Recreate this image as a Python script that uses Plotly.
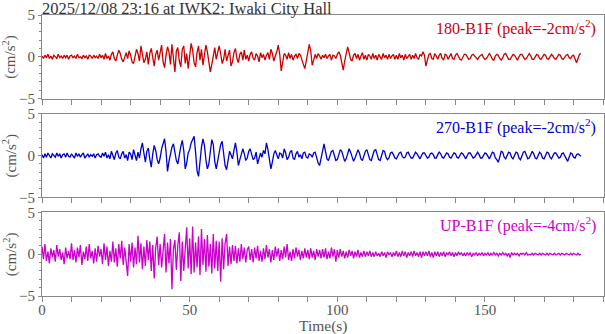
import plotly.graph_objects as go
from plotly.subplots import make_subplots

TITLE = "2025/12/08 23:16 at IWK2: Iwaki City Hall"
DT = 0.5  # sample interval (s)
LABELS = ["180-B1F (peak=-2cm/s<sup>2</sup>)",
          "270-B1F (peak=-2cm/s<sup>2</sup>)",
          "UP-B1F (peak=-4cm/s<sup>2</sup>)"]
COLORS = ["#cc0000", "#0000cc", "#cc00cc"]
X_TICKS = [0, 50, 100, 150]
Y_TICKS = [-5, 0, 5]
Y_TITLE = "(cm/s<sup>2</sup>)"
X_TITLE = "Time(s)"

ACC_180 = [
    0.1, -0.2, 0.2, -0.1, 0.3, -0.2, 0.1, -0.3, 0.2, 0.0, -0.2, 0.3, -0.1, 0.1, -0.2, 0.2, -0.1, 0.2, -0.3, 0.1,
    0.2, -0.1, 0.1, -0.2, 0.3, -0.1, 0.0, -0.2, 0.2, -0.1, 0.1, -0.3, 0.2, 0.1, -0.2, 0.2, -0.1, 0.1, -0.2, 0.3,
    -0.1, 0.2, -0.3, 0.4, -0.2, 0.1, -0.4, 0.3, 0.6, -0.2, -0.5, 0.2, 0.8, 0.4, -0.3, -0.6, 0.1, 0.5, -0.2, 0.7,
    0.2, -0.6, -0.8, 0.3, 0.9, 0.4, -0.5, 1.3, 0.2, -0.7, -0.3, 0.6, -0.9, 0.4, 1.0, -0.2, -1.1, 0.3, 0.8, -0.4,
    0.5, 1.4, -0.6, -1.3, 0.2, 1.2, 0.6, -0.9, 1.5, -0.3, -1.8, 0.7, 1.1, -0.5, -1.2, 0.9, 1.3, -0.8, 0.4, -1.4,
    0.3, 1.6, 0.8, -0.7, -1.2, 0.5, 1.3, -0.4, 0.9, -1.0, 0.2, 1.4, 0.6, -0.6, -1.8, -0.9, 0.4, 1.1, -0.3, 0.7,
    1.3, 0.4, -0.8, -0.3, 0.9, -0.5, 0.2, 0.8, -1.1, -0.6, 0.5, 1.0, -0.2, -0.7, 0.3, 0.6, -0.4, 0.8, -0.3, 0.2,
    -0.5, 0.3, 0.6, -0.2, -0.4, 0.4, 0.1, -0.6, 0.5, -0.1, 0.3, -0.4, 0.2, 0.5, -0.3, 0.9, 0.4, -0.5, 0.1, 0.6,
    1.4, 0.3, -1.7, -0.6, 0.4, 0.2, -0.3, 0.5, -0.2, 0.3, -0.4, 0.1, 0.3, -0.2, 0.4, 0.2, -0.5, -0.9, -1.4, -0.3,
    0.6, 1.5, 0.7, -1.0, -0.4, 0.3, -0.2, 0.4, 0.1, -0.3, 0.2, -0.1, 0.3, -0.2, 0.1, 0.3, -0.4, 0.2, 0.1, -0.2,
    0.3, 0.6, 0.2, -0.8, -1.6, -0.5, 0.6, 1.2, 0.5, -0.3, -0.5, 0.2, 0.4, -0.2, 0.3, -0.4, 0.1, 0.5, -0.3, 0.2,
    -0.4, 0.3, 0.1, -0.3, 0.4, -0.2, 0.2, -0.4, 0.3, 0.0, -0.3, 0.4, -0.1, 0.2, -0.3, 0.3, -0.2, 0.1, 0.3, -0.3,
    0.2, -0.3, 0.4, -0.1, 0.2, -0.4, 0.3, -0.2, 0.1, 0.3, -0.3, 0.2, -0.2, 0.4, -0.1, -0.3, 0.3, 0.1, 0.6, 0.2,
    -1.1, -0.4, 0.3, 0.4, -0.2, -0.3, 0.4, 0.1, -0.3, 0.2, 0.4, -0.2, -0.4, 0.3, 0.2, -0.3, 0.1, 0.4, -0.2, -0.3,
    0.2, 0.4, 0.1, -0.3, -0.4, 0.0, 0.3, 0.3, -0.1, -0.3, -0.2, 0.2, 0.3, 0.1, -0.2, -0.3, 0.0, 0.2, 0.3, -0.1,
    -0.3, -0.2, 0.2, 0.4, 0.1, -0.3, -0.4, 0.1, 0.3, 0.2, -0.2, -0.4, -0.1, 0.3, 0.4, 0.0, -0.3, -0.3, 0.1, 0.3,
    0.2, -0.2, -0.4, 0.0, 0.3, 0.3, -0.1, -0.3, -0.2, 0.2, 0.4, 0.1, -0.3, -0.3, 0.1, 0.3, 0.2, -0.2, -0.3, 0.0,
    0.3, 0.2, -0.2, -0.3, 0.1, 0.3, 0.1, -0.2, -0.3, 0.1, 0.3, 0.2, -0.2, -0.3, 0.0, 0.2, 0.3, -0.1, -0.2, 0.1,
    0.2, -0.3, -0.7, -0.2, 0.3, 0.4,
]

ACC_270 = [
    0.1, -0.3, 0.2, -0.2, 0.3, -0.1, -0.3, 0.2, 0.0, -0.2, 0.3, -0.1, 0.2, -0.3, 0.1, 0.2, -0.2, 0.3, -0.1, -0.2,
    0.2, 0.0, -0.3, 0.3, -0.1, 0.2, -0.2, 0.1, 0.3, -0.3, 0.0, 0.2, -0.2, 0.1, -0.1, 0.2, -0.3, 0.1, 0.2, -0.1,
    -0.2, 0.3, -0.1, 0.4, -0.3, 0.1, -0.4, 0.5, 0.0, -0.5, 0.3, 0.6, -0.2, -0.4, 0.2, 0.5, -0.3, 0.1, -0.6, 0.4,
    0.2, -0.5, 0.7, 0.1, -0.6, 0.4, -0.3, 0.8, 1.5, 0.3, -0.8, 0.5, 0.9, -0.4, -1.4, 0.2, 1.2, 0.6, -0.5, -1.0,
    -0.3, 0.8, 1.4, 2.0, 0.5, -1.9, -0.7, 0.4, 1.0, 1.4, 0.3, -0.6, -1.0, 0.2, 1.1, 1.8, 0.6, -1.6, -0.9, 0.3,
    0.7, 1.5, 1.9, 2.3, 0.4, -1.8, -2.5, -0.6, 1.0, 2.0, 1.2, -0.5, -1.6, -1.0, 0.5, 1.9, 1.3, -0.7, -1.6, -0.6,
    0.4, 1.3, 1.7, 0.2, -1.2, -1.7, -0.6, 0.5, 0.1, -0.4, 0.6, 1.5, 0.4, -1.2, -0.5, 0.3, 0.8, 0.2, -0.6, -0.3,
    0.5, 0.8, 0.2, -0.5, -0.3, 0.4, -1.0, -0.4, 0.3, -0.2, 0.6, 0.2, 1.5, 0.7, -0.6, -1.6, -0.8, 0.2, 0.6, 0.1,
    -0.4, 0.3, 0.2, -0.3, 0.8, 0.3, -0.5, -0.2, 0.4, 0.6, -0.3, -0.5, 0.2, 0.5, -0.2, 0.1, -0.4, 0.3, 0.4, -0.2,
    -0.3, 0.2, 0.1, -0.2, 0.3, 0.4, -0.3, -0.9, -1.2, -0.2, 0.8, 1.4, 0.5, -0.4, -0.6, 0.1, 0.5, 0.6, -0.1, -0.6,
    -0.5, 0.2, 0.7, 0.5, -0.2, -0.7, -0.4, 0.3, 0.8, 0.4, -0.3, -0.7, -0.3, 0.3, 0.7, 0.3, -0.4, -0.6, -0.1, 0.5,
    0.7, 0.2, -0.5, -0.6, 0.0, 0.6, 0.7, 0.1, -0.5, -0.6, 0.1, 0.6, 0.5, -0.2, -0.5, -0.3, 0.3, 0.4, 0.1, -0.3,
    -0.4, 0.0, 0.3, 0.4, -0.1, -0.3, -0.2, 0.3, 0.4, 0.0, -0.3, -0.3, 0.1, 0.4, 0.2, -0.2, -0.4, 0.0, 0.3, 0.3,
    -0.1, -0.3, -0.2, 0.2, 0.3, 0.1, -0.3, -0.3, 0.1, 0.4, 0.2, -0.2, -0.3, 0.0, 0.3, 0.2, -0.2, -0.3, 0.1, 0.3,
    0.2, -0.2, -0.3, 0.1, 0.3, 0.2, -0.2, -0.4, 0.0, 0.3, 0.3, -0.1, -0.3, -0.2, 0.2, 0.4, 0.1, -0.3, -0.3, 0.1,
    0.3, 0.2, -0.2, -0.4, 0.0, 0.4, 0.3, -0.3, -0.5, -0.8, -0.2, 0.5, 0.4, -0.2, -0.4, 0.1, 0.4, 0.3, -0.2, -0.4,
    0.0, 0.4, 0.3, -0.3, -0.5, 0.0, 0.4, 0.5, -0.1, -0.4, -0.3, 0.2, 0.5, 0.2, -0.3, -0.4, 0.1, 0.4, 0.2, -0.3,
    -0.4, 0.0, 0.4, 0.3, -0.2, -0.4, 0.0, 0.3, 0.3, -0.1, -0.3, -0.2, 0.2, 0.3, 0.0, -0.3, -0.7, -0.2, 0.3, 0.2,
    -0.2, -0.3, 0.1, 0.2, 0.0, -0.1,
]

ACC_UP = [
    0.9, -0.6, 1.2, -0.8, 0.3, -1.1, 0.7, -0.4, 0.5, -0.9, 1.1, -0.3, 0.6, -0.7, 0.2, -1.2, 0.8, -0.5, 0.4, -0.6,
    1.3, -0.7, 0.5, -1.0, 0.8, -0.4, 1.1, -1.3, 0.3, -0.6, 0.9, -0.8, 1.2, -0.5, 0.4, -1.1, 0.7, -0.9, 1.0, -0.3,
    0.6, -1.2, 1.3, -0.7, 0.9, -1.4, 0.4, -0.9, 1.5, -1.0, 0.7, -1.5, 1.2, -0.5, 1.6, -1.3, 0.8, -0.7, -2.6, 1.2,
    -0.9, 1.4, -1.6, 0.8, -1.2, 2.2, -1.0, 1.3, -1.8, 0.9, -1.4, 1.7, -0.7, 1.5, -2.0, 1.1, -2.9, 0.8, 2.1, -1.3,
    1.2, -1.6, 0.9, 2.4, -2.2, 1.4, -1.1, 1.8, -4.2, 0.6, 1.7, -1.9, 1.1, 2.6, -3.2, 1.5, -2.0, 0.8, 3.2, -1.7,
    1.9, -2.4, 3.3, -2.2, 1.4, -1.6, 2.1, -2.5, 3.0, -1.3, 1.8, -2.1, 2.3, -1.5, 1.2, -2.3, 2.4, -1.7, 1.6, -2.0,
    1.5, -3.3, 1.9, -1.8, 1.3, 2.4, -1.4, 0.9, -1.2, 1.1, -0.8, 1.0, -1.1, 0.7, -0.9, 1.2, -0.6, 0.8, -1.0, 0.5,
    0.9, -0.7, 0.6, -1.0, 0.8, -0.5, 1.0, -0.8, 0.4, -0.9, 0.7, -0.6, 1.1, -0.4, 0.6, -1.0, 0.5, -0.7, 0.9, -0.3,
    0.7, -0.8, 0.5, -0.6, 0.9, -0.4, 1.2, -0.7, 0.3, -0.8, 0.6, -0.5, 0.8, -0.3, 0.5, -0.7, 0.4, -0.5, 0.7, -0.4,
    0.5, -0.6, 0.7, -0.4, 0.4, -0.7, 0.6, -0.3, 0.5, -0.5, 0.6, -0.4, 0.7, -0.6, 0.3, -0.5, 0.8, -0.3, 0.6, -0.9,
    0.5, -0.4, 0.6, -0.3, 0.4, -0.5, 0.3, -0.4, 0.5, -0.2, 0.4, -0.5, 0.3, -0.3, 0.5, -0.4, 0.2, -0.3, 0.4, -0.3,
    0.3, -0.2, 0.4, -0.3, 0.2, -0.3, 0.3, -0.2, 0.1, -0.3, 0.3, -0.2, 0.2, -0.4, 0.3, -0.1, 0.2, -0.3, 0.2, -0.2,
    0.4, -0.3, 0.2, -0.3, 0.4, -0.2, 0.3, -0.4, 0.2, -0.2, 0.3, -0.3, 0.4, -0.2, 0.2, -0.3, 0.3, -0.4, 0.3, -0.2,
    0.3, -0.2, 0.4, -0.3, 0.2, -0.4, 0.3, -0.2, 0.3, -0.3, 0.2, -0.2, 0.3, -0.3, 0.2, -0.1, 0.3, -0.2, 0.2, -0.3,
    0.2, -0.2, 0.3, -0.1, 0.2, -0.2, 0.1, -0.2, 0.2, -0.1, 0.2, -0.3, 0.1, -0.1, 0.2, -0.2, 0.1, -0.1, 0.2, -0.2,
    0.1, -0.1, 0.2, -0.2, 0.1, -0.1, 0.2, -0.1, 0.1, -0.2, 0.1, -0.1, 0.2, -0.1, 0.1, -0.2, 0.1, -0.4, 0.2, -0.1,
    0.1, -0.1, 0.1, -0.2, 0.1, 0.0, 0.1, -0.1, 0.2, -0.1, 0.0, -0.1, 0.1, -0.1, 0.1, 0.0, -0.1, 0.1, -0.1, 0.1,
    0.0, -0.1, 0.1, -0.1, 0.1, 0.0, -0.1, 0.1, -0.1, 0.0, 0.1, -0.1, 0.1, 0.0, -0.1, 0.1, 0.0, -0.1, 0.1, -0.1,
    0.1, 0.0, -0.1, 0.1, -0.1, 0.0,
]

SERIES = [ACC_180, ACC_270, ACC_UP]

FONT = "Liberation Serif"
AXIS_COLOR = "#888888"
TEXT_COLOR = "#555555"
W, H = 605, 334
ML, MR, MT, MB = 42, 1, 15, 38
PW, PH = W - ML - MR, H - MT - MB

fig = make_subplots(rows=3, cols=1, shared_xaxes=False, vertical_spacing=15 / PH)

for i, (vals, col, lab) in enumerate(zip(SERIES, COLORS, LABELS)):
    r = i + 1
    fig.add_trace(go.Scatter(y=vals, x0=0, dx=DT, mode="lines",
                             line=dict(color=col, width=1.3),
                             showlegend=False, hoverinfo="skip"), row=r, col=1)
    fig.update_xaxes(range=[0, 190.3], tickvals=X_TICKS, automargin=False,
                     showticklabels=(r == 3), ticks="outside", ticklen=5,
                     ticklabelstandoff=-5,
                     tickcolor=AXIS_COLOR, showline=True, linecolor=AXIS_COLOR,
                     linewidth=1, mirror=True, showgrid=False, zeroline=False,
                     minor=dict(dtick=10, ticks="outside", ticklen=5,
                                tickcolor=AXIS_COLOR, showgrid=False),
                     tickfont=dict(family=FONT, size=15, color=TEXT_COLOR),
                     row=r, col=1)
    fig.update_yaxes(range=[-5, 5], tickvals=Y_TICKS, ticks="outside", ticklen=3,
                     automargin=False,
                     tickcolor=AXIS_COLOR, showline=True, linecolor=AXIS_COLOR,
                     linewidth=1, mirror=True, showgrid=False, zeroline=False,
                     minor=dict(dtick=1, ticks="outside", ticklen=2,
                                tickcolor=AXIS_COLOR, showgrid=False),
                     tickfont=dict(family=FONT, size=15, color=TEXT_COLOR),
                     row=r, col=1)
    yref = "y domain" if r == 1 else f"y{r} domain"
    xref = "x domain" if r == 1 else f"x{r} domain"
    fig.add_annotation(text=lab, xref=xref, yref=yref, x=0.99, y=1.0,
                       xanchor="right", yanchor="top", showarrow=False,
                       font=dict(family=FONT, size=16, color=col))
    fig.add_annotation(text=Y_TITLE, xref="paper", yref=yref,
                       x=(10 - ML) / PW, y=0.5, xanchor="center", yanchor="middle",
                       textangle=-90, showarrow=False,
                       font=dict(family=FONT, size=15, color=TEXT_COLOR))

fig.add_annotation(text=X_TITLE, xref="paper", yref="paper",
                   x=(323 - ML) / PW, y=-(326 - (MT + PH)) / PH,
                   xanchor="center", yanchor="middle", showarrow=False,
                   font=dict(family=FONT, size=15.5, color=TEXT_COLOR))

fig.update_layout(
    width=W, height=H,
    margin=dict(l=ML, r=MR, t=MT, b=MB),
    paper_bgcolor="white", plot_bgcolor="white",
    title=dict(text=TITLE, x=ML / W, xanchor="left", y=1 - 8 / H, yanchor="middle",
               font=dict(family=FONT, size=16.5, color="#333333")),
)

fig.write_html("out.html", config={"displayModeBar": False},
               post_script="document.body.style.margin='0';document.body.style.overflow='hidden';")
